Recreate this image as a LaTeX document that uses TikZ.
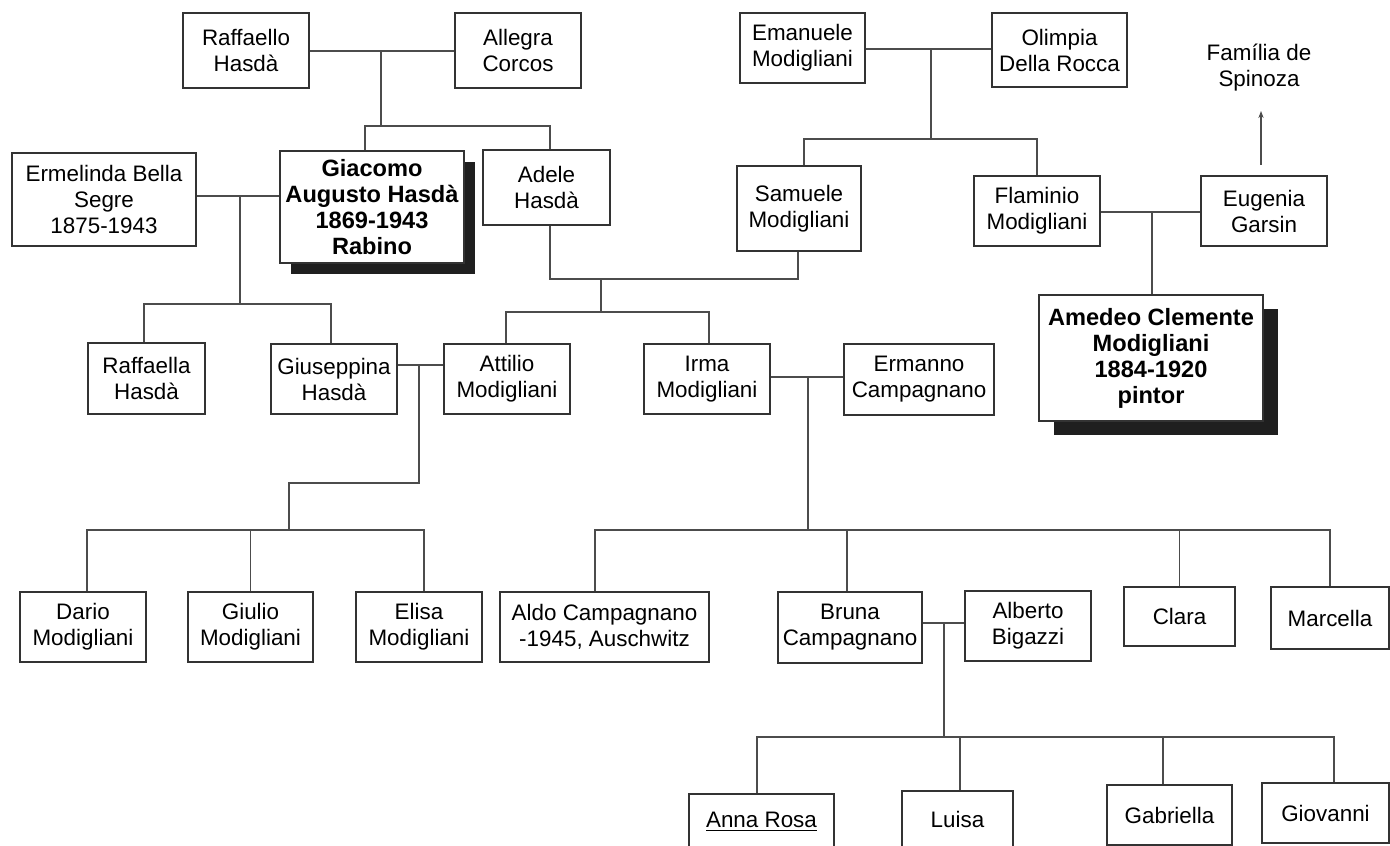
\documentclass[tikz,border=0pt]{standalone}
\usepackage{fontspec}
\setmainfont{Liberation Sans}
\usetikzlibrary{shadows,arrows.meta}
\tikzset{
  famnode/.style={draw=black!80, line width=0.55pt, fill=white, align=center, inner sep=0pt,
    font=\fontsize{11.2pt}{13pt}\selectfont},
  keynode/.style={famnode, font=\fontsize{11.8pt}{13pt}\selectfont\bfseries},
  giashadow/.style={drop shadow={shadow xshift=5.5pt, shadow yshift=-5.5pt, fill=black!88, opacity=1}},
  amshadow/.style={drop shadow={shadow xshift=7.5pt, shadow yshift=-7pt, fill=black!88, opacity=1}},
  link/.style={draw=black!70, line width=0.55pt},
  plaintext/.style={align=center, inner sep=0pt, font=\fontsize{11.2pt}{13pt}\selectfont},
}
\newcommand\fbx[7][]{\node[famnode,#1,minimum width={(#5-#3)*0.5pt},minimum height={(#6-#4)*0.5pt}] (#2) at ({(#3+#5)/2},{(#4+#6)/2}) {#7};}
\begin{document}
\begin{tikzpicture}[x=0.5pt,y=-0.5pt]
\useasboundingbox (0,0) rectangle (1390,845);
\clip (0,0) rectangle (1390,845);
\fill[white] (0,0) rectangle (1390,845);

% generation 1
\fbx{raffaello}{183}{13}{309}{88}{Raffaello\\Hasdà}
\fbx{allegra}{455}{13}{581}{88}{Allegra\\Corcos}
\fbx{emanuele}{740}{13}{865}{83}{Emanuele\\Modigliani}
\fbx{olimpia}{992}{13}{1127}{87}{Olimpia\\Della Rocca}
\node[plaintext] (spinoza) at (1259,68) {Família de\\Spinoza};

% generation 2
\fbx{ermelinda}{12}{153}{196}{246}{Ermelinda Bella\\Segre\\1875-1943}
\fbx[keynode,giashadow]{giacomo}{280}{151}{464}{263}{Giacomo\\Augusto Hasdà\\1869-1943\\Rabino}
\fbx{adele}{483}{150}{610}{225}{Adele\\Hasdà}
\fbx{samuele}{737}{166}{861}{251}{Samuele\\Modigliani}
\fbx{flaminio}{974}{176}{1100}{246}{Flaminio\\Modigliani}
\fbx{eugenia}{1201}{176}{1327}{246}{Eugenia\\Garsin}

% generation 3
\fbx[keynode,amshadow]{amedeo}{1039}{295}{1263}{421}{Amedeo Clemente\\Modigliani\\1884-1920\\pintor}
\fbx{raffaella}{88}{343}{205}{414}{Raffaella\\Hasdà}
\fbx{giuseppina}{271}{344}{397}{414}{Giuseppina\\Hasdà}
\fbx{attilio}{444}{344}{570}{414}{Attilio\\Modigliani}
\fbx{irma}{644}{344}{770}{414}{Irma\\Modigliani}
\fbx{ermanno}{844}{344}{994}{415}{Ermanno\\Campagnano}

% generation 4
\fbx{dario}{20}{592}{146}{662}{Dario\\Modigliani}
\fbx{giulio}{188}{592}{313}{662}{Giulio\\Modigliani}
\fbx{elisa}{356}{592}{482}{662}{Elisa\\Modigliani}
\fbx{aldo}{500}{592}{709}{662}{Aldo Campagnano\\-1945, Auschwitz}
\fbx{bruna}{778}{592}{922}{663}{Bruna\\Campagnano}
\fbx{alberto}{965}{591}{1091}{661}{Alberto\\Bigazzi}
\fbx{clara}{1124}{587}{1235}{646}{Clara}
\fbx{marcella}{1271}{587}{1389}{649}{Marcella}

% generation 5
\fbx{annarosa}{689}{794}{834}{850}{\underline{Anna Rosa}}
\fbx{luisa}{902}{791}{1013}{847}{Luisa}
\fbx{gabriella}{1107}{785}{1232}{845}{Gabriella}
\fbx{giovanni}{1262}{783}{1389}{843}{Giovanni}

% Raffaello + Allegra
\coordinate (j1) at (381,51);
\coordinate (b1l) at (365,126);
\coordinate (b1r) at (550,126);
\draw[link] (raffaello.east |- j1) -- (allegra.west |- j1);
\draw[link] (j1) -- (j1 |- b1l);
\draw[link] (b1l |- giacomo.north) -- (b1l) -- (b1r) -- (b1r |- adele.north);

% Ermelinda + Giacomo
\coordinate (j2) at (240,196);
\coordinate (b2l) at (144,304);
\coordinate (b2r) at (331,304);
\draw[link] (ermelinda.east |- j2) -- (giacomo.west |- j2);
\draw[link] (j2) -- (j2 |- b2l);
\draw[link] (b2l |- raffaella.north) -- (b2l) -- (b2r) -- (b2r |- giuseppina.north);

% Adele + Samuele
\coordinate (b3l) at (550,279);
\coordinate (b3r) at (798,279);
\coordinate (j3) at (601,279);
\coordinate (b3cl) at (506,312);
\coordinate (b3cr) at (709,312);
\draw[link] (b3l |- adele.south) -- (b3l) -- (b3r) -- (b3r |- samuele.south);
\draw[link] (j3) -- (j3 |- b3cl);
\draw[link] (b3cl |- attilio.north) -- (b3cl) -- (b3cr) -- (b3cr |- irma.north);

% Emanuele + Olimpia
\coordinate (j4) at (931,49);
\coordinate (b4l) at (804,139);
\coordinate (b4r) at (1037,139);
\draw[link] (emanuele.east |- j4) -- (olimpia.west |- j4);
\draw[link] (j4) -- (j4 |- b4l);
\draw[link] (b4l |- samuele.north) -- (b4l) -- (b4r) -- (b4r |- flaminio.north);

% Flaminio + Eugenia
\coordinate (j5) at (1152,212);
\draw[link] (flaminio.east |- j5) -- (eugenia.west |- j5);
\draw[link] (j5) -- (j5 |- amedeo.north);

% Eugenia -> Spinoza
\coordinate (arrtail) at (1261,165);
\coordinate (arrtip) at (1261,111);
\draw[link, -{Stealth[length=3.5pt,width=2.6pt]}] (arrtail) -- (arrtip);

% Giuseppina + Attilio
\coordinate (j6) at (419,365);
\coordinate (k6) at (289,483);
\coordinate (b6l) at (87,530);
\coordinate (b6r) at (424,530);
\draw[link] (giuseppina.east |- j6) -- (attilio.west |- j6);
\draw[link] (j6) -- (j6 |- k6) -- (k6) -- (k6 |- b6l);
\draw[link] (b6l |- dario.north) -- (b6l) -- (b6r) -- (b6r |- elisa.north);
\draw[link] (giulio.north) -- (giulio.north |- b6l);

% Irma + Ermanno
\coordinate (j7) at (808,377);
\coordinate (b7l) at (595,530);
\coordinate (b7r) at (1330,530);
\coordinate (d7b) at (847,530);
\draw[link] (irma.east |- j7) -- (ermanno.west |- j7);
\draw[link] (j7) -- (j7 |- b7l);
\draw[link] (b7l |- aldo.north) -- (b7l) -- (b7r) -- (b7r |- marcella.north);
\draw[link] (d7b) -- (d7b |- bruna.north);
\draw[link] (clara.north) -- (clara.north |- b7l);

% Bruna + Alberto
\coordinate (j8) at (944,623);
\coordinate (b8l) at (757,737);
\coordinate (b8r) at (1334,737);
\coordinate (d8l) at (960,737);
\coordinate (d8g) at (1163,737);
\draw[link] (bruna.east |- j8) -- (alberto.west |- j8);
\draw[link] (j8) -- (j8 |- b8l);
\draw[link] (b8l |- annarosa.north) -- (b8l) -- (b8r) -- (b8r |- giovanni.north);
\draw[link] (d8l) -- (d8l |- luisa.north);
\draw[link] (d8g) -- (d8g |- gabriella.north);
\end{tikzpicture}
\end{document}
